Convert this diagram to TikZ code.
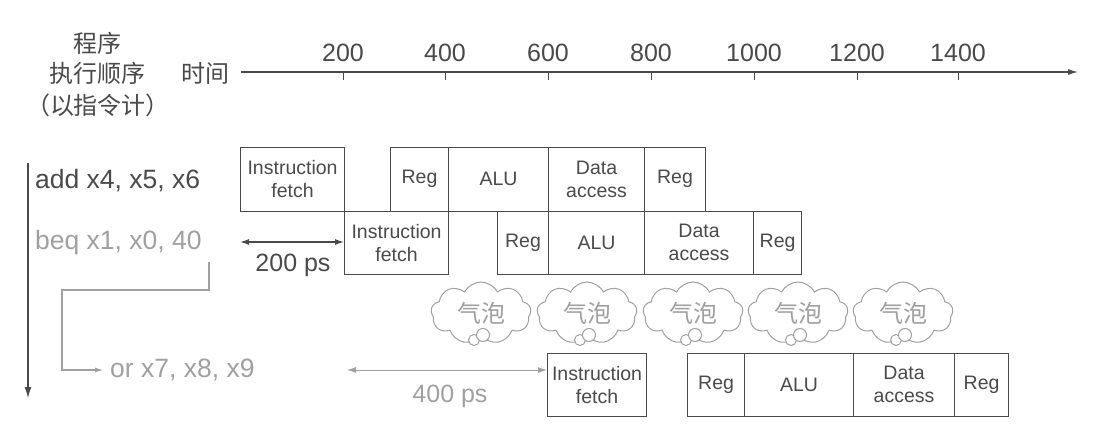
\documentclass[tikz,border=0pt]{standalone}
\usepackage{fontspec}
\setmainfont{Liberation Sans}
\newfontfamily\cjk{Noto Sans CJK SC}
\usetikzlibrary{shapes.symbols,arrows.meta}
\definecolor{ink}{HTML}{4A4A4A}
\definecolor{lite}{HTML}{A0A0A0}
\begin{document}
\begin{tikzpicture}[x=1pt,y=-1pt,
  stagebox/.style={draw=ink, line width=1.1pt, text=ink, font=\fontsize{19.5}{23}\selectfont,
    align=center, inner sep=0pt, minimum height=63.5pt, anchor=north west},
  instr/.style={font=\fontsize{26.5}{30}\selectfont, inner sep=0pt, anchor=west},
  ticklab/.style={font=\fontsize{25}{28}\selectfont, text=ink, inner sep=0pt},
  cjklab/.style={font=\cjk\fontsize{24}{30}\selectfont, text=ink, inner sep=0pt},
  bubble/.style={cloud, cloud puffs=9, cloud puff arc=125, aspect=1.55, draw=lite, line width=1pt, fill=white,
    minimum width=100pt, minimum height=62pt, inner sep=0pt, text=lite, font=\cjk\fontsize{24}{26}\selectfont},
  dimline/.style={line width=1.2pt, {Latex[length=9pt,width=6pt]}-{Latex[length=9pt,width=6pt]}},
]
\useasboundingbox[fill=white] (0,0) rectangle (1106,433);

% title
\node[cjklab] (t1) at (97,43) {程序};
\node[cjklab] (t2) at (97,73) {执行顺序};
\node[cjklab] (t3) at (98,105) {（以指令计）};
\node[cjklab] (tt) at (205,73) {时间};

% time axis
\coordinate (ax0) at (241,72);
\coordinate (ax1) at (1078,72);
\draw[ink, line width=1.1pt, -{Latex[length=10pt,width=6pt]}] (ax0) -- (ax1);
\foreach \x/\l [count=\i] in {343/200,445/400,548/600,651/800,754/1000,857/1200,958/1400}{
  \coordinate (tk\i) at (\x,72);
  \draw[ink, line width=1pt] (tk\i) -- ++(0,8);
  \node[ticklab] (tl\i) at (\x,53) {\l};
}

% program order arrow
\coordinate (po0) at (28,163);
\coordinate (po1) at (28,398);
\draw[ink, line width=1.2pt, -{Latex[length=11pt,width=7pt]}] (po0) -- (po1);

% instructions
\node[instr, text=ink] (iadd) at (35,181) {add x4, x5, x6};
\node[instr, text=lite] (ibeq) at (35,243) {beq x1, x0, 40};
\node[instr, text=lite] (ior) at (110,370) {or x7, x8, x9};

% branch connector
\coordinate (br0) at (209,262);
\coordinate (br1) at (62,290);
\draw[lite, line width=1.1pt, -{Latex[length=8pt,width=5pt]}] (br0) |- (br1) |- ([xshift=-7pt]ior.west);

% row 1: add
\node[stagebox, minimum width=104pt] (a1) at (240,147) {Instruction\\fetch};
\node[stagebox, minimum width=58pt]  (a2) at (390,147) {Reg};
\node[stagebox, minimum width=100pt] (a3) at (448,147) {ALU};
\node[stagebox, minimum width=96pt]  (a4) at (548,147) {Data\\access};
\node[stagebox, minimum width=61pt]  (a5) at (644,147) {Reg};

% row 2: beq
\node[stagebox, minimum width=104pt] (b1) at (344,210.5) {Instruction\\fetch};
\node[stagebox, minimum width=51pt]  (b2) at (497,210.5) {Reg};
\node[stagebox, minimum width=96pt]  (b3) at (548,210.5) {ALU};
\node[stagebox, minimum width=109pt] (b4) at (644,210.5) {Data\\access};
\node[stagebox, minimum width=48pt]  (b5) at (753,210.5) {Reg};

% row 3: or
\node[stagebox, minimum width=99pt]  (c1) at (547,352.5) {Instruction\\fetch};
\node[stagebox, minimum width=57pt]  (c2) at (687,352.5) {Reg};
\node[stagebox, minimum width=109pt] (c3) at (744,352.5) {ALU};
\node[stagebox, minimum width=101pt] (c4) at (853,352.5) {Data\\access};
\node[stagebox, minimum width=54pt]  (c5) at (954,352.5) {Reg};

% 200 ps
\coordinate (d200) at (240,242);
\draw[ink, dimline] (d200) -- (b1.west |- d200);
\node[ticklab] (l200) at (293,265) {200 ps};

% 400 ps
\coordinate (d400) at (347,370);
\draw[lite, dimline, line width=1pt] (d400) -- (c1.west |- d400);
\node[ticklab, text=lite] (l400) at (450,396) {400 ps};

% bubbles
\foreach \cx [count=\i] in {481,587,693,798,903}{
  \node[bubble] (bub\i) at (\cx,313) {气泡};
  \draw[lite, line width=1pt, fill=white] (\cx-7,340) circle (5.5);
  \draw[lite, line width=1pt, fill=white] (\cx+2,335) circle (6.5);
}
\end{tikzpicture}
\end{document}
